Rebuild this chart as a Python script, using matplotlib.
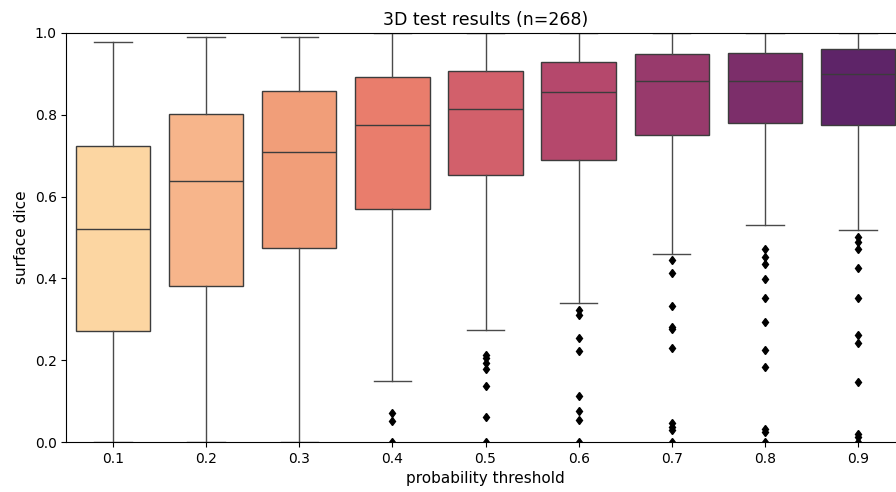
import matplotlib
matplotlib.use('Agg')
import matplotlib.pyplot as plt

# Umbrales de probabilidad
thresholds = ['0.1', '0.2', '0.3', '0.4', '0.5', '0.6', '0.7', '0.8', '0.9']

# Estadísticos de cada caja
q1 = [0.271, 0.381, 0.474, 0.570, 0.653, 0.690, 0.751, 0.781, 0.775]
medians = [0.521, 0.638, 0.709, 0.775, 0.814, 0.856, 0.883, 0.883, 0.899]
q3 = [0.724, 0.802, 0.858, 0.892, 0.907, 0.929, 0.948, 0.952, 0.960]
whis_low = [0.0, 0.0, 0.0, 0.149, 0.274, 0.340, 0.460, 0.531, 0.518]
whis_high = [0.978, 0.990, 0.990, 1.0, 1.0, 1.0, 1.0, 1.0, 1.0]

# Valores atípicos
outliers = [
    [],
    [],
    [],
    [0.071, 0.051, 0.0],
    [0.213, 0.205, 0.192, 0.178, 0.137, 0.060, 0.0],
    [0.322, 0.310, 0.254, 0.222, 0.112, 0.076, 0.054, 0.0],
    [0.446, 0.413, 0.333, 0.280, 0.276, 0.229, 0.046, 0.037, 0.029, 0.0],
    [0.472, 0.453, 0.434, 0.398, 0.352, 0.293, 0.225, 0.183, 0.032, 0.025, 0.0],
    [0.502, 0.488, 0.471, 0.425, 0.352, 0.262, 0.243, 0.146, 0.019, 0.013, 0.0],
]

colors = ['#FCD6A2', '#F7B58B', '#F19E79', '#E97D6C', '#D2606B',
          '#B5486C', '#983A6C', '#7C2E6A', '#5E2468']

stats = []
for i in range(len(thresholds)):
    stats.append({'q1': q1[i], 'med': medians[i], 'q3': q3[i],
                  'whislo': whis_low[i], 'whishi': whis_high[i],
                  'fliers': outliers[i], 'label': thresholds[i]})

fig = plt.figure(figsize=(8.96, 4.92), dpi=100)
ax = fig.add_axes([66.4 / 896, 1 - 442 / 492, (904.6 - 66.4) / 896, (442 - 33) / 492])

line_color = '#4a4a4a'
bp = ax.bxp(stats, positions=range(len(thresholds)), widths=0.8, patch_artist=True,
            boxprops=dict(edgecolor='#3c3c3c', linewidth=1),
            medianprops=dict(color='#3c3c3c', linewidth=1),
            whiskerprops=dict(color=line_color, linewidth=1),
            capprops=dict(color=line_color, linewidth=1),
            flierprops=dict(marker='d', markerfacecolor='black',
                            markeredgecolor='black', markersize=4.5))
for patch, c in zip(bp['boxes'], colors):
    patch.set_facecolor(c)

ax.set_xlim(-0.5, len(thresholds) - 0.5)
ax.set_ylim(0.0, 1.0)
ax.set_yticks([0.0, 0.2, 0.4, 0.6, 0.8, 1.0])
ax.set_xticks(range(len(thresholds)))
ax.set_xticklabels(thresholds)
ax.tick_params(labelsize=10)

ax.set_title('3D test results (n=268)', fontsize=12.5)
ax.set_xlabel('probability threshold', fontsize=11)
ax.set_ylabel('surface dice', fontsize=11)

fig.savefig('out.png', dpi=100)
